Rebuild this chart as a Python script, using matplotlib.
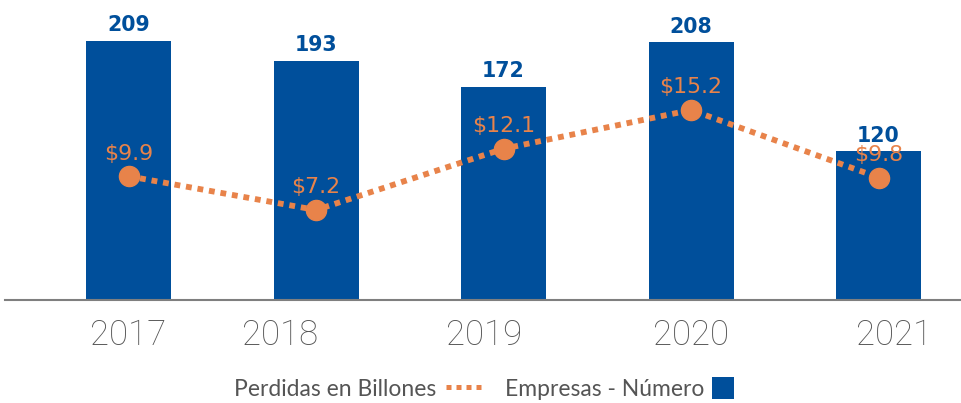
import numpy as np
import matplotlib
matplotlib.use("Agg")
import matplotlib.pyplot as plt
import matplotlib.transforms as mtransforms
from matplotlib.lines import Line2D
from matplotlib.patches import Patch, Rectangle
from matplotlib.legend_handler import HandlerPatch

# -----------------------------
# Data
# -----------------------------
years = ["2017", "2018", "2019", "2020", "2021"]
empresas = [209, 193, 172, 208, 120]
perdidas = [9.9, 7.2, 12.1, 15.2, 9.8]

BLUE = "#004f9b"
ORANGE = "#e8834a"
GRAY = "#555555"
DOTS = (0, (1.0, 1.0))

plt.rcParams["font.family"] = ["DejaVu Sans"]

fig = plt.figure(figsize=(9.62, 4.03), dpi=100)
ax = fig.add_axes([5 / 962, 1 - 300 / 403, 957 / 962, 300 / 403])
ax2 = ax.twinx()

x = np.arange(len(years))

# -----------------------------
# Bars (number of companies)
# -----------------------------
ax.bar(x, empresas, width=0.453, color=BLUE, zorder=2)
for xi, v in zip(x, empresas):
    ax.annotate(str(v), (xi, v), xytext=(0, 4), textcoords="offset points",
                ha="center", va="bottom", color=BLUE, fontsize=14.8,
                fontweight="bold")

ax.set_xlim(-0.659, 4.445)
ax.set_ylim(0, 242)

# -----------------------------
# Dotted line (losses)
# -----------------------------
ax2.plot(x, perdidas, color=ORANGE, linewidth=4.2, linestyle=DOTS,
         dash_capstyle="butt", marker="o", markersize=14.5, zorder=3)
for xi, v in zip(x, perdidas):
    ax2.annotate(f"${v}", (xi, v), xytext=(0, 9), textcoords="offset points",
                 ha="center", va="bottom", color=ORANGE, fontsize=15.8)
ax2.set_ylim(0, 24)
ax2.set_yticks([])

for a in (ax, ax2):
    for s in ("top", "right", "left"):
        a.spines[s].set_visible(False)
ax2.spines["bottom"].set_visible(False)
ax.spines["bottom"].set_color("#7f7f7f")
ax.spines["bottom"].set_linewidth(1.5)
ax.set_yticks([])

# year labels, nudged like the original
ax.set_xticks(x)
ax.set_xticklabels(years, fontsize=25, color=GRAY, fontweight="light",
                   family=["Roboto", "DejaVu Sans"])
ax.tick_params(axis="x", length=0, pad=13)
label_shift = [-0.5, -36, -19, -0.5, 16]
for lab, dx in zip(ax.get_xticklabels(), label_shift):
    lab.set_transform(lab.get_transform() +
                      mtransforms.Affine2D().translate(dx, 0))


# -----------------------------
# Legend
# -----------------------------
def square_handle(legend, orig_handle, xdescent, ydescent, width, height, fontsize):
    side = 16  # points
    return Rectangle((-xdescent - 2, -ydescent + height / 2 - side / 2), side, side)


handles = [
    Line2D([], [], color=ORANGE, linewidth=3.6, linestyle=DOTS,
           dash_capstyle="butt"),
    Patch(facecolor=BLUE),
]
leg = fig.legend(handles, ["Perdidas en Billones", "Empresas - Número"],
                 loc="center", bbox_to_anchor=(0.5 + 12 / 962, 14 / 403), ncol=2,
                 frameon=False, markerfirst=False,
                 prop={"family": ["Lato", "DejaVu Sans"], "size": 16.5},
                 labelcolor=GRAY, handlelength=1.65, handleheight=1.0,
                 handletextpad=0.45, columnspacing=0.9,
                 handler_map={Patch: HandlerPatch(patch_func=square_handle)})

fig.savefig("out.png", dpi=100)
